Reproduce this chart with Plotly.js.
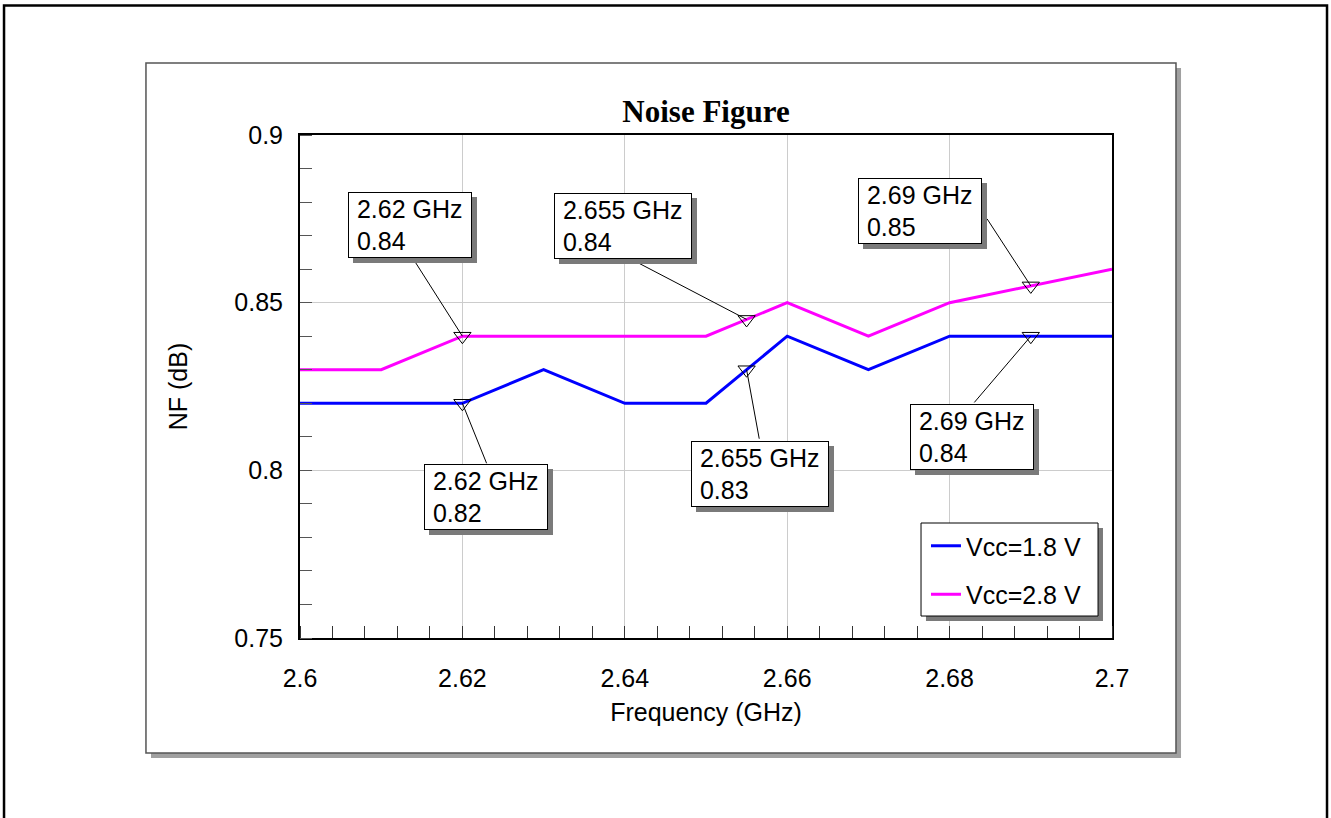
<!DOCTYPE html>
<html>
<head>
<meta charset="utf-8">
<script src="https://cdn.plot.ly/plotly-3.0.1.min.js"></script>
<style>html,body{margin:0;padding:0;background:#fff;}#chart{width:1331px;height:818px;}</style>
</head>
<body>
<div id="chart"></div>
<script>
// ---- data ----
const freq = [2.60, 2.61, 2.62, 2.63, 2.64, 2.65, 2.66, 2.67, 2.68, 2.69, 2.70];
const nf18 = [0.82, 0.82, 0.82, 0.83, 0.82, 0.82, 0.84, 0.83, 0.84, 0.84, 0.84];
const nf28 = [0.83, 0.83, 0.84, 0.84, 0.84, 0.84, 0.85, 0.84, 0.85, 0.855, 0.86];
const markerFreq = [2.62, 2.655, 2.69];
const marker18 = [0.82, 0.83, 0.84];
const marker28 = [0.84, 0.845, 0.855];
const label18 = ['0.82', '0.83', '0.84'];
const label28 = ['0.84', '0.84', '0.85'];
const markerFreqText = ['2.62 GHz', '2.655 GHz', '2.69 GHz'];
const xTicks = [2.6, 2.62, 2.64, 2.66, 2.68, 2.7];
const xTickText = ['2.6', '2.62', '2.64', '2.66', '2.68', '2.7'];
const yTicks = [0.75, 0.8, 0.85, 0.9];
const yTickText = ['0.75', '0.8', '0.85', '0.9'];
const seriesNames = ['Vcc=1.8 V', 'Vcc=2.8 V'];

const SANS = 'Arial, "Liberation Sans", sans-serif';
const SERIF = '"Times New Roman", "Liberation Serif", serif';
const FS = 25;

const traces = [
  {x: freq, y: nf18, mode: 'lines', name: seriesNames[0], legendgroup: 'a',
   line: {color: '#0000ff', width: 3}},
  {x: freq, y: nf28, mode: 'lines', name: seriesNames[1], legendgroup: 'b',
   line: {color: '#ff00ff', width: 3}},
  {x: markerFreq, y: marker28, mode: 'markers', showlegend: false, hoverinfo: 'skip',
   marker: {symbol: 'triangle-down-open', size: 15, color: '#000', line: {width: 1, color: '#000'}}},
  {x: markerFreq, y: marker18, mode: 'markers', showlegend: false, hoverinfo: 'skip',
   marker: {symbol: 'triangle-down-open', size: 15, color: '#000', line: {width: 1, color: '#000'}}}
];

// label placement (pixel offsets from marker): box shift, arrow tail offset, box width
const place28 = [
  {xs: -52, ys: 111, ax: -49, ay: -77, w: 120},
  {xs: -124, ys: 93, ax: -115, ay: -60, w: 134},
  {xs: -111, ys: 75, ax: -45, ay: -69, w: 120}
];
const place18 = [
  {xs: 24, ys: -94, ax: 25, ay: 62, w: 120},
  {xs: 13, ys: -104, ax: 13, ay: 71, w: 134},
  {xs: -59, ys: -101, ax: -58, ay: 68, w: 120}
];

const annotations = [];
function addLabels(ys, labels, place) {
  for (let i = 0; i < markerFreq.length; i++) {
    const p = place[i];
    const txt = '\u00a0' + markerFreqText[i] + '<br>\u00a0' + labels[i];
    // arrow line
    annotations.push({x: markerFreq[i], y: ys[i], xref: 'x', yref: 'y', text: ' ',
      font: {size: 1}, showarrow: true, arrowhead: 0, arrowwidth: 1, arrowcolor: '#000',
      ax: p.ax, ay: p.ay, standoff: 0, startstandoff: 0});
    // shadow
    annotations.push({x: markerFreq[i], y: ys[i], xref: 'x', yref: 'y', text: ' ',
      showarrow: false, xanchor: 'center', yanchor: 'middle',
      xshift: p.xs + 5, yshift: p.ys - 5, width: p.w, height: 62,
      bgcolor: '#7a7a7a', bordercolor: '#7a7a7a', borderwidth: 1, borderpad: 1,
      font: {family: SANS, size: FS, color: '#7a7a7a'}});
    // box
    annotations.push({x: markerFreq[i], y: ys[i], xref: 'x', yref: 'y', text: txt,
      showarrow: false, xanchor: 'center', yanchor: 'middle', align: 'left', valign: 'middle',
      xshift: p.xs, yshift: p.ys, width: p.w, height: 62,
      bgcolor: '#ffffff', bordercolor: '#000', borderwidth: 1, borderpad: 1,
      font: {family: SANS, size: FS, color: '#000'}});
  }
}
addLabels(marker28, label28, place28);
addLabels(marker18, label18, place18);

const shapes = [
  // outer border
  {type: 'rect', xref: 'paper', yref: 'paper', x0: -0.3645, x1: 1.2648, y0: -0.40, y1: 1.2575,
   line: {color: '#000', width: 2.5}, fillcolor: 'rgba(0,0,0,0)', layer: 'below'},
  // panel shadow
  {type: 'rect', xref: 'paper', yref: 'paper', x0: -0.1835, x1: 1.0850, y0: -0.2386, y1: 1.1332,
   line: {width: 0}, fillcolor: '#a0a0a0', layer: 'below'},
  // panel
  {type: 'rect', xref: 'paper', yref: 'paper', x0: -0.1897, x1: 1.0788, y0: -0.2286, y1: 1.1431,
   line: {color: '#555', width: 1.5}, fillcolor: '#ffffff', layer: 'below'},
  // legend shadow
  {type: 'rect', xref: 'paper', yref: 'paper', x0: 0.7709, x1: 0.9889, y0: 0.0338, y1: 0.2187,
   line: {width: 0}, fillcolor: '#7a7a7a', layer: 'above'},
  // legend box
  {type: 'rect', xref: 'paper', yref: 'paper', x0: 0.7648, x1: 0.9828, y0: 0.0437, y1: 0.2286,
   line: {color: '#000', width: 1}, fillcolor: '#ffffff', layer: 'above'}
];

const layout = {
  width: 1331, height: 818,
  margin: {l: 300, r: 219, t: 135, b: 180, pad: 0},
  paper_bgcolor: '#ffffff', plot_bgcolor: '#ffffff',
  showlegend: true,
  title: {text: 'Noise Figure', x: 0.5, xref: 'paper', xanchor: 'center',
          y: 1 - 111 / 818, yref: 'container', yanchor: 'middle',
          font: {family: SERIF, size: 31, color: '#000', weight: 'bold'}},
  xaxis: {
    range: [2.6, 2.7], tickmode: 'array', tickvals: xTicks, ticktext: xTickText,
    ticks: '', showgrid: true, gridcolor: '#cccccc', gridwidth: 1, zeroline: false,
    showline: true, linecolor: '#000', linewidth: 2, mirror: true,
    minor: {dtick: 0.004, tick0: 2.6, ticks: 'inside', ticklen: 12, tickwidth: 1, tickcolor: '#333', showgrid: false},
    tickfont: {family: SANS, size: FS, color: '#000'}, ticklabelstandoff: 17,
    title: {text: 'Frequency (GHz)', font: {family: SANS, size: FS, color: '#000'}, standoff: 12},
    automargin: false, fixedrange: true
  },
  yaxis: {
    range: [0.75, 0.9], tickmode: 'array', tickvals: yTicks, ticktext: yTickText,
    ticks: '', showgrid: true, gridcolor: '#cccccc', gridwidth: 1, zeroline: false,
    showline: true, linecolor: '#000', linewidth: 2, mirror: true,
    minor: {dtick: 0.01, tick0: 0.75, ticks: 'inside', ticklen: 12, tickwidth: 1, tickcolor: '#555', showgrid: false},
    tickfont: {family: SANS, size: FS, color: '#000'}, ticklabelstandoff: 10,
    title: {text: 'NF (dB)', font: {family: SANS, size: FS, color: '#000'}, standoff: 40},
    automargin: false, fixedrange: true
  },
  legend: {x: 0.7709, y: 0.2286, xanchor: 'left', yanchor: 'top',
           bgcolor: 'rgba(0,0,0,0)', borderwidth: 0,
           font: {family: SANS, size: FS, color: '#000'},
           traceorder: 'grouped', tracegroupgap: 13},
  shapes: shapes,
  annotations: annotations
};

Plotly.newPlot('chart', traces, layout, {staticPlot: true, displayModeBar: false});
</script>
</body>
</html>
